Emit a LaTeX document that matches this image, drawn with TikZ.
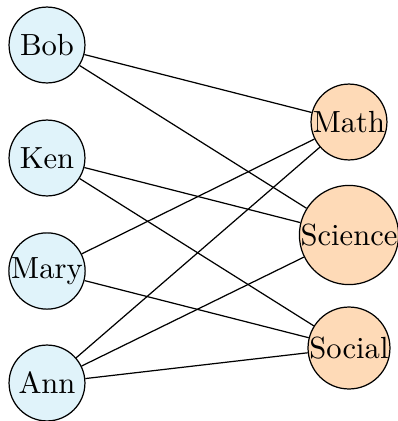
\documentclass[tikz,border=0pt]{standalone}
\definecolor{leftfill}{RGB}{224,243,250}
\definecolor{rightfill}{RGB}{254,218,183}
\begin{document}
\begin{tikzpicture}[x=0.3268pt,y=-0.3268pt,
  person/.style={circle,draw,fill=leftfill,inner sep=0pt,minimum size=24.8pt},
  subject/.style={circle,draw,fill=rightfill,inner sep=0pt,minimum size=24.8pt},
  link/.style={draw,line width=0.4pt}]
\useasboundingbox (0,0) rectangle (398,421);
\node[person] (bob) at (47,45) {Bob};
\node[person] (ken) at (47,158) {Ken};
\node[person] (mary) at (47,271) {Mary};
\node[person] (ann) at (47,383) {Ann};
\node[subject] (math) at (349,122) {Math};
\node[subject] (science) at (349,235) {Science};
\node[subject] (social) at (349,348) {Social};
\draw[link] (bob) -- (math);
\draw[link] (bob) -- (science);
\draw[link] (ken) -- (science);
\draw[link] (ken) -- (social);
\draw[link] (mary) -- (math);
\draw[link] (mary) -- (social);
\draw[link] (ann) -- (math);
\draw[link] (ann) -- (science);
\draw[link] (ann) -- (social);
\end{tikzpicture}
\end{document}
